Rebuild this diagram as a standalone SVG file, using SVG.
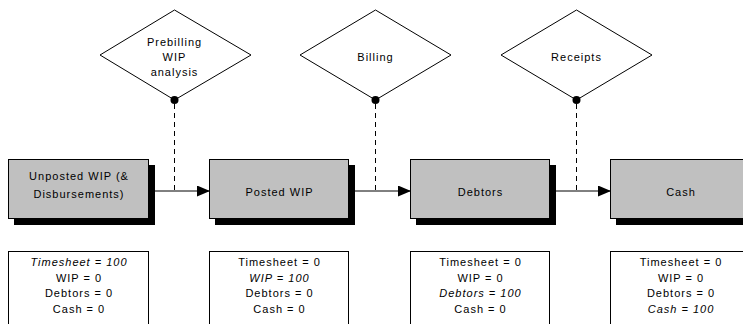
<svg xmlns="http://www.w3.org/2000/svg" width="743" height="324" viewBox="0 0 743 324">
  <style>
    text { font-family: "Liberation Sans", Arial, sans-serif; font-size: 11px; letter-spacing: 1px; fill: #000; text-anchor: middle; }
    .it { font-style: italic; }
    .diamond { fill: #fff; stroke: #000; stroke-width: 1; }
    .box { fill: #c0c0c0; stroke: #000; stroke-width: 1; }
    .shadow { fill: #000; }
    .info { fill: #fff; stroke: #000; stroke-width: 1; }
    .flow { stroke: #000; stroke-width: 1; fill: none; }
    .link { stroke: #000; stroke-width: 1; stroke-dasharray: 5 4; fill: none; }
    .dot { fill: #000; }
  </style>
  <defs>
    <marker id="arrow" markerWidth="13" markerHeight="11" refX="13" refY="5.5" orient="auto" markerUnits="userSpaceOnUse">
      <path d="M0,0 L13,5.5 L0,11 Z" fill="#000"/>
    </marker>
  </defs>

  <rect width="743" height="324" fill="#fff"/>

  <!-- activities -->
  <g id="prebilling">
    <polygon class="diamond" points="174.5,10 251,55 174.5,100 100,55"/>
    <text x="174.5" y="46">Prebilling</text>
    <text x="174.5" y="61">WIP</text>
    <text x="174.5" y="76">analysis</text>
  </g>
  <g id="billing">
    <polygon class="diamond" points="375.5,10 451,55 375.5,100 300,55"/>
    <text x="375.5" y="61">Billing</text>
  </g>
  <g id="receipts">
    <polygon class="diamond" points="576.5,10 652,55 576.5,100 501,55"/>
    <text x="576.5" y="61">Receipts</text>
  </g>

  <!-- states -->
  <g id="unposted-wip">
    <rect class="shadow" x="14" y="165" width="141" height="60"/>
    <rect class="box" x="8.5" y="159.5" width="140" height="59"/>
    <text x="79" y="180">Unposted WIP (&amp;</text>
    <text x="79" y="198">Disbursements)</text>
  </g>
  <g id="posted-wip">
    <rect class="shadow" x="215" y="165" width="140" height="60"/>
    <rect class="box" x="209.5" y="159.5" width="139" height="59"/>
    <text x="279.5" y="196">Posted WIP</text>
  </g>
  <g id="debtors">
    <rect class="shadow" x="416" y="165" width="140" height="60"/>
    <rect class="box" x="410.5" y="159.5" width="139" height="59"/>
    <text x="480.5" y="196">Debtors</text>
  </g>
  <g id="cash">
    <rect class="shadow" x="616" y="165" width="140" height="60"/>
    <rect class="box" x="610.5" y="159.5" width="140" height="59"/>
    <text x="681" y="196">Cash</text>
  </g>

  <!-- connectors: flows between states, dashed links from activities -->
  <g id="connectors">
    <line class="flow" x1="155" y1="191" x2="210" y2="191" marker-end="url(#arrow)"/>
    <line class="flow" x1="355" y1="191" x2="411" y2="191" marker-end="url(#arrow)"/>
    <line class="flow" x1="556" y1="191" x2="611" y2="191" marker-end="url(#arrow)"/>
    <line class="link" x1="174.5" y1="104" x2="174.5" y2="191"/>
    <line class="link" x1="375.5" y1="104" x2="375.5" y2="191"/>
    <line class="link" x1="576.5" y1="104" x2="576.5" y2="191"/>
    <circle class="dot" cx="174.5" cy="100" r="4"/>
    <circle class="dot" cx="375.5" cy="100" r="4"/>
    <circle class="dot" cx="576.5" cy="100" r="4"/>
  </g>

  <!-- balances -->
  <g id="balances-unposted">
    <rect class="info" x="8.5" y="251.5" width="140" height="90"/>
    <text class="it" x="79" y="266">Timesheet = 100</text>
    <text x="79" y="281.5">WIP = 0</text>
    <text x="79" y="297">Debtors = 0</text>
    <text x="79" y="312.5">Cash = 0</text>
  </g>
  <g id="balances-posted">
    <rect class="info" x="209.5" y="251.5" width="139" height="90"/>
    <text x="279.5" y="266">Timesheet = 0</text>
    <text class="it" x="279.5" y="281.5">WIP = 100</text>
    <text x="279.5" y="297">Debtors = 0</text>
    <text x="279.5" y="312.5">Cash = 0</text>
  </g>
  <g id="balances-debtors">
    <rect class="info" x="410.5" y="251.5" width="139" height="90"/>
    <text x="480.5" y="266">Timesheet = 0</text>
    <text x="480.5" y="281.5">WIP = 0</text>
    <text class="it" x="480.5" y="297">Debtors = 100</text>
    <text x="480.5" y="312.5">Cash = 0</text>
  </g>
  <g id="balances-cash">
    <rect class="info" x="610.5" y="251.5" width="140" height="90"/>
    <text x="681" y="266">Timesheet = 0</text>
    <text x="681" y="281.5">WIP = 0</text>
    <text x="681" y="297">Debtors = 0</text>
    <text class="it" x="681" y="312.5">Cash = 100</text>
  </g>
</svg>
